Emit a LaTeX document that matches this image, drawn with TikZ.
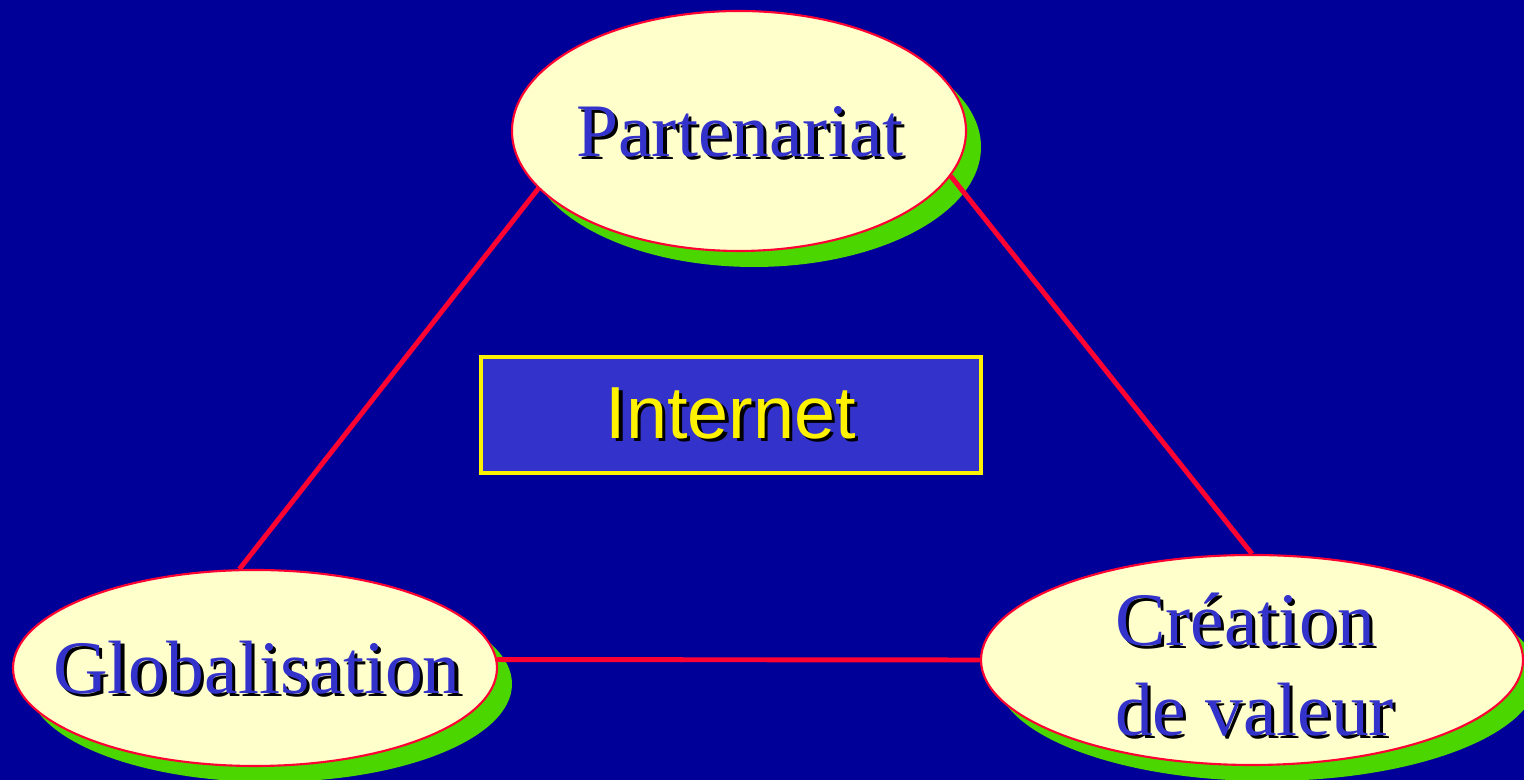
\documentclass[tikz,border=0pt]{standalone}
\usepackage{fontspec}
\setmainfont{Liberation Serif}
\setsansfont{Liberation Sans}
\usetikzlibrary{shapes.geometric,shadows}
\definecolor{bgblue}{RGB}{0,0,153}
\definecolor{cream}{RGB}{255,255,204}
\definecolor{shgreen}{RGB}{76,214,0}
\definecolor{linered}{RGB}{255,0,51}
\definecolor{txtblue}{RGB}{51,51,204}
\newcommand{\shtxt}[2]{\leavevmode\rlap{\kern0.9pt\raisebox{-0.9pt}{\color{black}#2}}{\color{#1}#2}}
\tikzset{
  bubble/.style={ellipse,draw=linered,line width=0.6pt,fill=cream,inner sep=0pt,
    drop shadow={shadow xshift=0.15cm,shadow yshift=-0.16cm,fill=shgreen,opacity=1}},
  bubbletxt/.style={font=\fontsize{21.5}{25.6}\selectfont,align=center,inner sep=0pt},
  link/.style={draw=linered,line width=1.4pt}
}
\begin{document}
\begin{tikzpicture}
\fill[bgblue](0,0)rectangle(15.24,7.8);
\useasboundingbox(0,0)rectangle(15.24,7.8);
\node[bubble,minimum width=4.54cm,minimum height=2.40cm](part)at(7.39,6.49){};
\node[bubble,minimum width=4.84cm,minimum height=1.96cm](glob)at(2.55,1.12){};
\node[bubble,minimum width=5.42cm,minimum height=2.10cm](crea)at(12.52,1.20){};
\node[bubbletxt](parttxt)at(7.40,6.47){\shtxt{txtblue}{Partenariat}};
\node[bubbletxt](globtxt)at(2.57,1.11){\shtxt{txtblue}{Globalisation}};
\node[bubbletxt,align=left](creatxt)at(12.545,1.14){\shtxt{txtblue}{Création}\\\shtxt{txtblue}{de valeur}};
\node[draw=yellow,line width=1.4pt,fill=txtblue,minimum width=5.0cm,minimum height=1.16cm,font=\sffamily\fontsize{21}{25}\selectfont](net)at(7.31,3.65){\shtxt{yellow}{Internet}};
\path[link](part.196.5)--(glob.99) (part.348)--(crea.90) (glob.2)--(crea.west);
\end{tikzpicture}
\end{document}
